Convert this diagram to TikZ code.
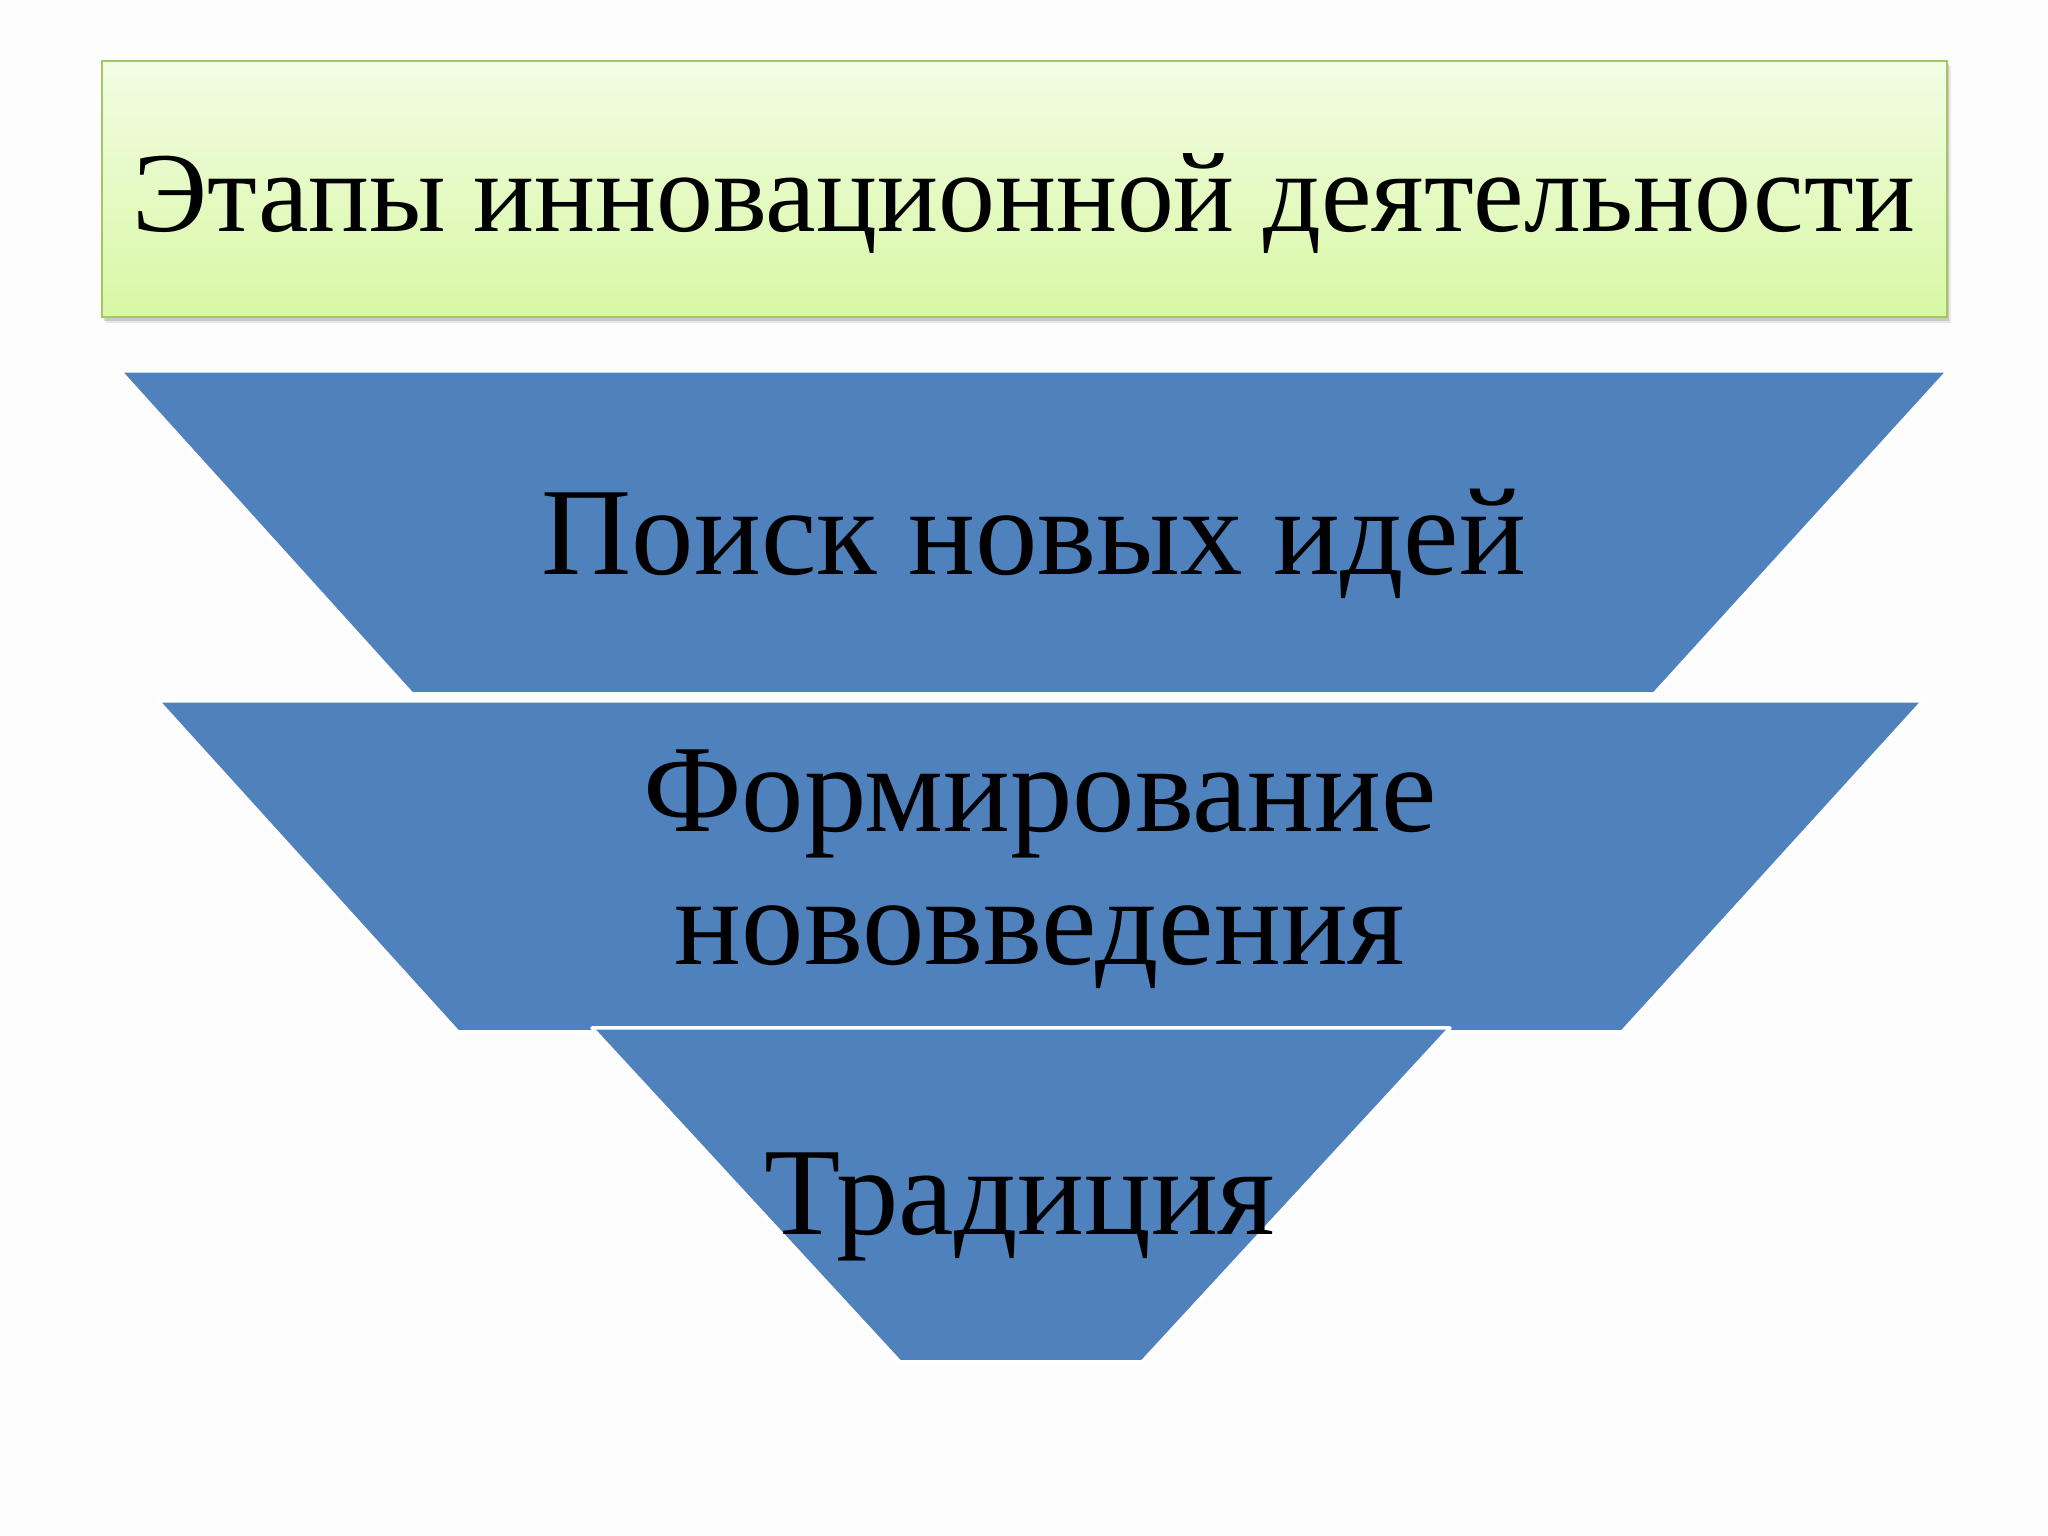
\documentclass[tikz,border=0pt]{standalone}
\usepackage{fontspec}
\setmainfont{Liberation Serif}
\usetikzlibrary{shadows}
\definecolor{stageblue}{HTML}{4F81BD}
\definecolor{titletop}{HTML}{F2FCE4}
\definecolor{titlebot}{HTML}{D8F8A4}
\definecolor{titleedge}{HTML}{A6C462}
\definecolor{pagebg}{HTML}{FDFDFD}
\tikzset{
  stage/.style={fill=stageblue, draw=white, line width=0.035cm, line join=round},
  stagetext/.style={inner sep=0pt, anchor=base, font=\fontsize{35.5}{38}\selectfont, align=center},
  titlebox/.style={top color=titletop, bottom color=titlebot, draw=titleedge, line width=0.02cm},
  titletext/.style={inner sep=0pt, anchor=base, font=\fontsize{32.4}{36}\selectfont}
}
\begin{document}
\begin{tikzpicture}
\fill[pagebg] (0,0) rectangle (20.48,15.36);
\useasboundingbox (0,0) rectangle (20.48,15.36);
% title box with soft shadow
\fill[black!25, opacity=0.35] (1.06,14.70) rectangle (19.51,12.13);
\fill[black!35, opacity=0.45] (1.04,14.72) rectangle (19.49,12.15);
\path[titlebox] (1.02,14.75) rectangle (19.47,12.19);
\node[titletext] (title) at (10.24,13.04) {Этапы инновационной деятельности};
% stage 1
\path[stage] (1.20,11.65) -- (19.48,11.65) -- (16.54,8.42) -- (4.12,8.42) -- cycle;
\node[stagetext] (s1) at (10.34,9.61) {Поиск новых идей};
% stage 2
\path[stage] (1.58,8.35) -- (19.23,8.35) -- (16.22,5.04) -- (4.58,5.04) -- cycle;
\node[stagetext] (s2) at (10.40,5.71) {Формирование\\нововведения};
% stage 3
\path[stage] (5.92,5.08) -- (14.50,5.08) -- (11.42,1.74) -- (9.00,1.74) -- cycle;
\node[stagetext] (s3) at (10.20,3.01) {Традиция};
\end{tikzpicture}
\end{document}
